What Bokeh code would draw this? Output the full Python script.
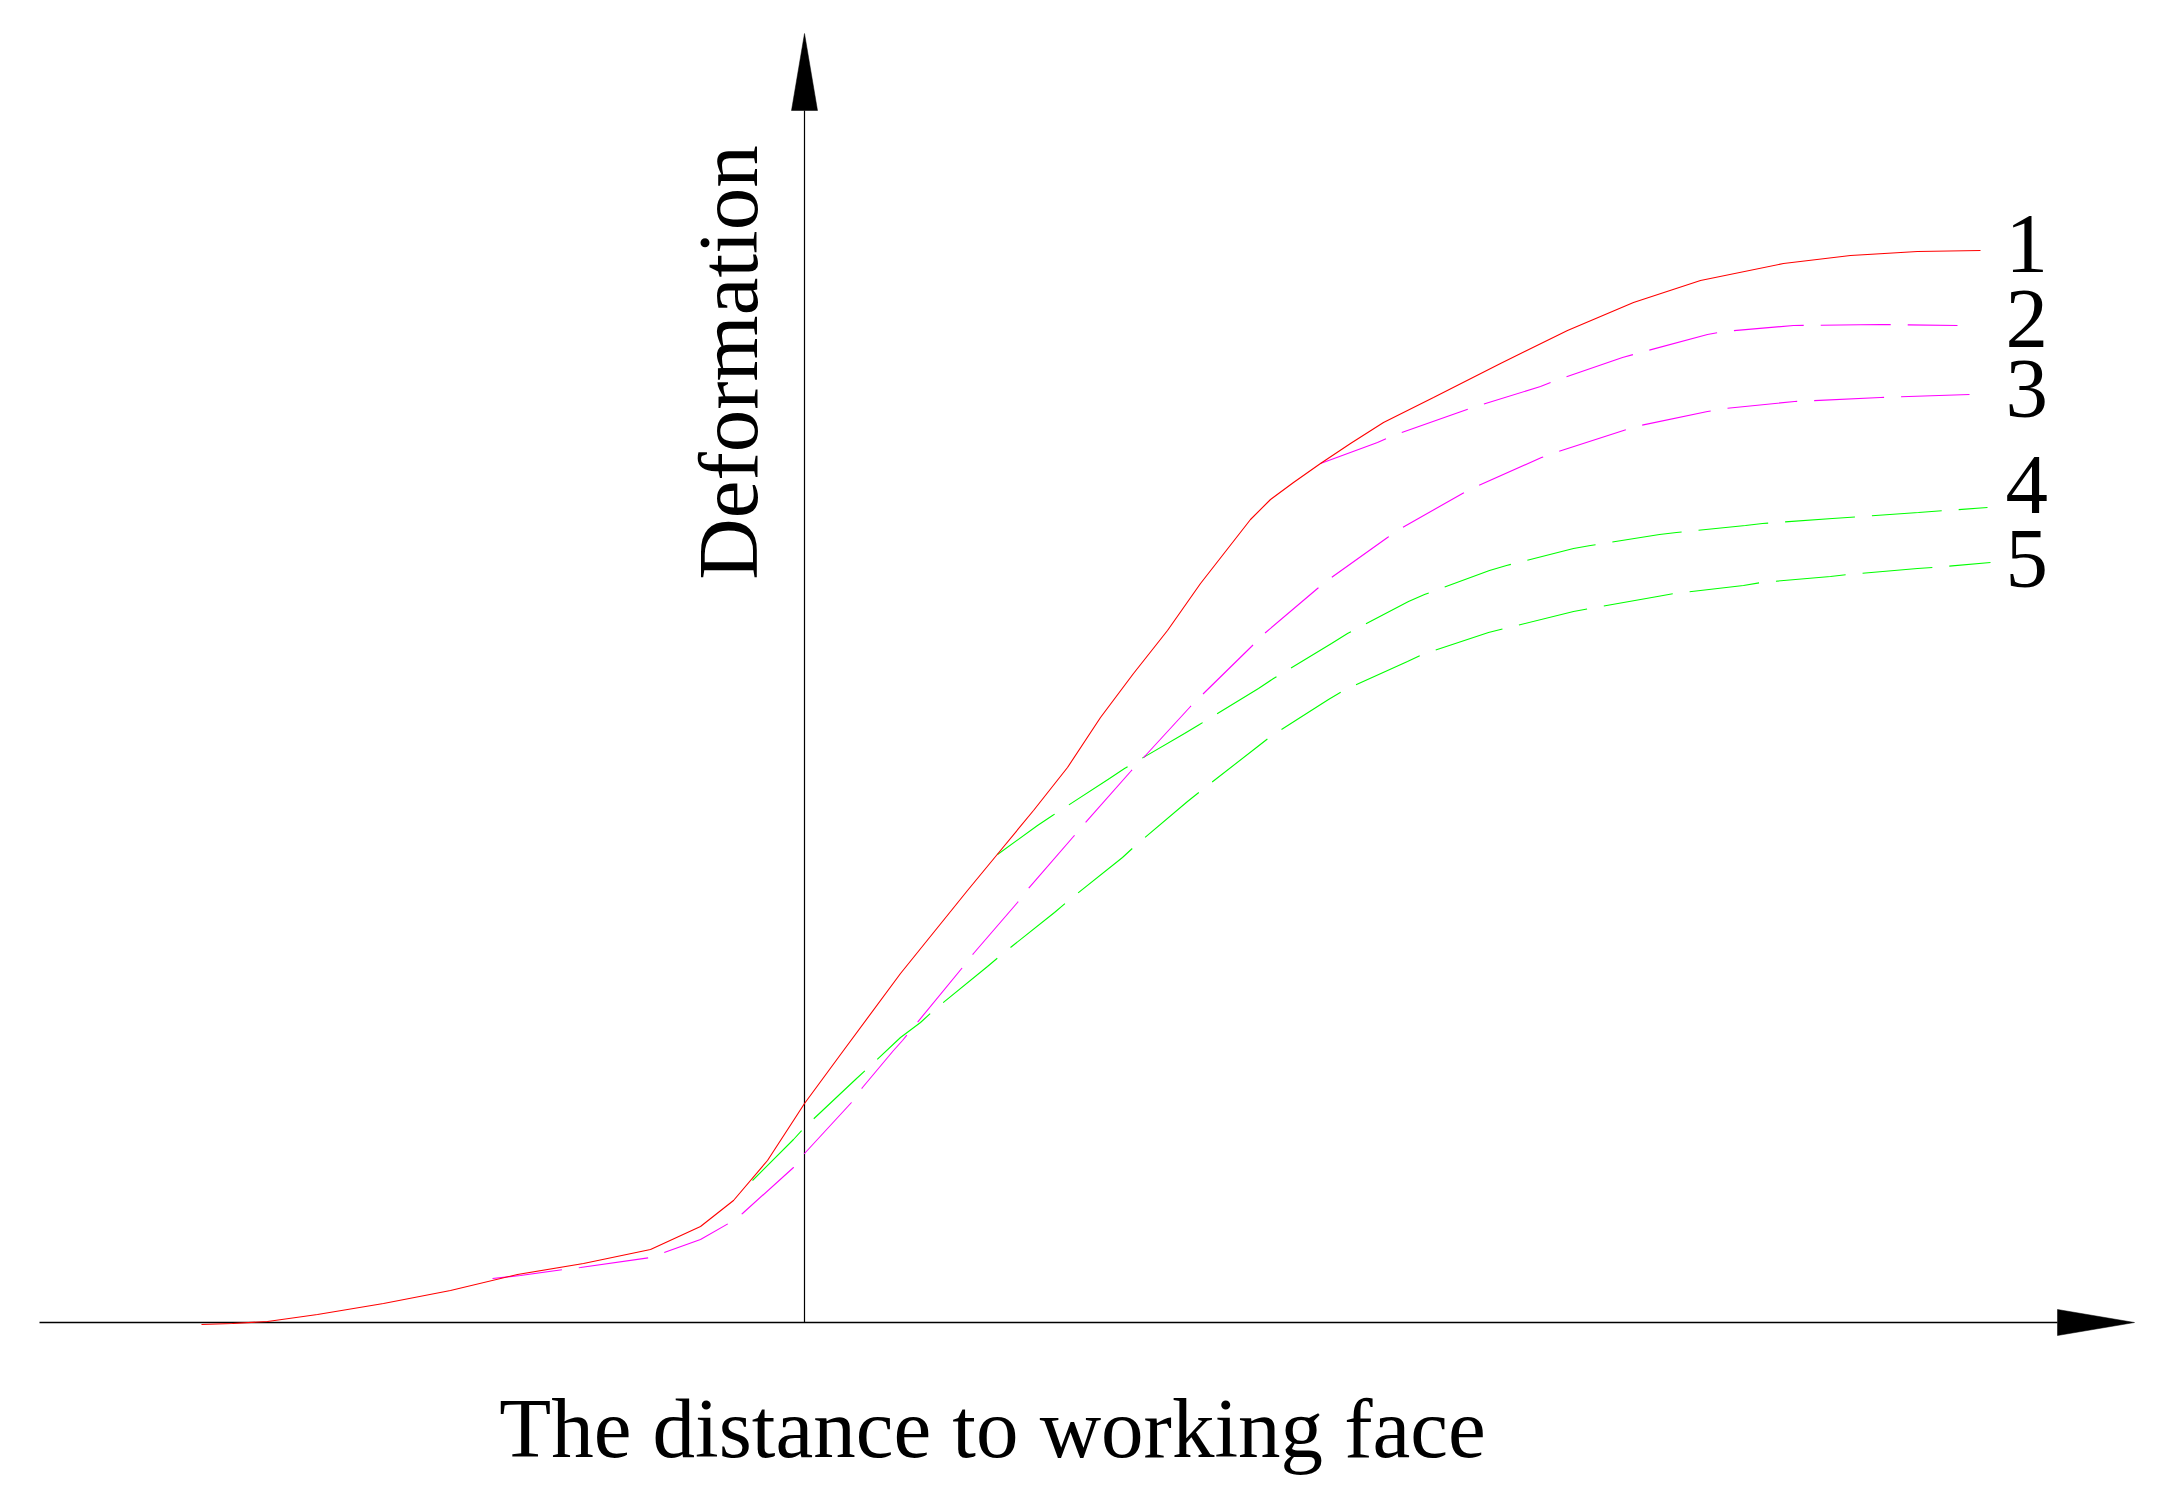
import math
from bokeh.plotting import figure
from bokeh.models import Range1d
from bokeh.core.properties import value
from bokeh.embed import file_html
from bokeh.resources import INLINE

# ---- data (arbitrary units: distance / deformation) ----
x1 = [-6.03, -5.72, -5.37, -4.87, -4.21, -3.54, -2.87, -2.21, -1.54, -1.04, -0.71, -0.37, -0.11, 0.00,
      0.39, 0.96, 1.63, 1.96, 2.29, 2.63, 2.96, 3.29, 3.63, 3.96, 4.46, 4.66, 4.89, 5.16, 5.46, 5.79,
      6.29, 6.96, 7.63, 8.29, 8.96, 9.79, 10.46, 11.13, 11.76]
y1 = [-0.02, -0.01, 0.01, 0.08, 0.19, 0.32, 0.48, 0.59, 0.73, 0.96, 1.22, 1.62, 2.02, 2.19,
      2.72, 3.49, 4.32, 4.72, 5.12, 5.55, 6.05, 6.49, 6.92, 7.39, 8.03, 8.23, 8.40, 8.59, 8.79, 9.00,
      9.25, 9.59, 9.92, 10.20, 10.42, 10.59, 10.67, 10.71, 10.72]

x2 = [5.16, 5.73, 5.89, 6.54, 6.71, 7.36, 7.54, 8.18, 8.36, 9.03, 9.19, 9.89, 10.76, 11.53]
y2 = [8.59, 8.80, 8.87, 9.10, 9.16, 9.36, 9.43, 9.65, 9.70, 9.88, 9.91, 9.97, 9.98, 9.97]

x3 = [-3.12, -2.84, -2.41, -2.24, -1.54, -1.04, -0.76, -0.62, -0.11, 0.00, 0.47, 0.58, 0.89, 0.98,
      1.58, 1.69, 2.13, 2.24, 2.69, 2.81, 3.27, 3.41, 3.86, 3.98, 4.47, 4.60, 5.13, 5.27, 5.83, 5.98,
      6.58, 6.74, 7.37, 7.54, 8.19, 8.36, 9.03, 9.21, 9.90, 10.76, 11.65]
y3 = [0.44, 0.47, 0.53, 0.55, 0.65, 0.83, 0.99, 1.09, 1.55, 1.69, 2.20, 2.35, 2.72, 2.82,
      3.55, 3.69, 4.20, 4.34, 4.86, 5.00, 5.52, 5.67, 6.16, 6.28, 6.76, 6.89, 7.34, 7.45, 7.85, 7.95,
      8.29, 8.37, 8.65, 8.71, 8.92, 8.97, 9.11, 9.14, 9.21, 9.25, 9.28]

x4 = [1.93, 2.33, 2.48, 3.05, 3.20, 3.80, 3.95, 4.54, 4.69, 5.27, 5.43, 6.04, 6.20, 6.85, 7.02,
      7.69, 7.86, 8.55, 8.72, 9.41, 9.58, 10.28, 11.14, 11.83]
y4 = [4.68, 4.97, 5.07, 5.44, 5.54, 5.89, 5.98, 6.34, 6.44, 6.79, 6.89, 7.21, 7.28, 7.52, 7.57,
      7.74, 7.77, 7.88, 7.90, 7.97, 7.99, 8.04, 8.10, 8.15]

x5 = [-0.52, -0.11, 0.00, 0.51, 0.64, 0.96, 1.16, 1.29, 1.83, 1.96, 2.50, 2.64, 3.18, 3.31, 3.83,
      3.98, 4.52, 4.66, 5.24, 5.39, 6.03, 6.18, 6.84, 7.00, 7.69, 7.85, 8.53, 8.70, 9.39, 9.57,
      10.26, 10.43, 11.13, 11.29, 11.86]
y5 = [1.42, 1.83, 1.95, 2.43, 2.55, 2.85, 3.00, 3.12, 3.56, 3.67, 4.10, 4.22, 4.65, 4.77, 5.21,
      5.33, 5.75, 5.86, 6.23, 6.32, 6.61, 6.68, 6.90, 6.94, 7.11, 7.14, 7.26, 7.29, 7.37, 7.40,
      7.46, 7.48, 7.54, 7.55, 7.60]

curve_labels = ["1", "2", "3", "4", "5"]
label_y = [10.79, 10.04, 9.34, 8.38, 7.64]
label_x = 12.01

x_title = "The distance to working face"
y_title = "Deformation"

# axis extents (data units)
x_axis_start, x_axis_end = -7.65, 13.30
y_axis_end = 12.89

W, H = 2158, 1490
p = figure(width=W, height=H, output_backend="svg", toolbar_location=None,
           x_range=Range1d(-8.04, 13.54), y_range=Range1d(-1.68, 13.22),
           x_axis_type=None, y_axis_type=None, min_border=0)
p.grid.visible = False
p.outline_line_color = None
p.background_fill_color = "white"
p.border_fill_color = "white"

# axes with arrow heads
head_len, head_half = 0.77, 0.13
p.line([x_axis_start, x_axis_end - head_len], [0, 0], line_color="black", line_width=1.3)
p.line([0, 0], [0, y_axis_end - head_len], line_color="black", line_width=1.2)
p.patch([x_axis_end - head_len, x_axis_end, x_axis_end - head_len],
        [head_half, 0, -head_half], fill_color="black", line_color="black", line_width=0.5)
p.patch([-head_half, 0, head_half],
        [y_axis_end - head_len, y_axis_end, y_axis_end - head_len],
        fill_color="black", line_color="black", line_width=0.5)

dash = "70 17"
p.line(x5, y5, line_color="#00FF00", line_width=1.1, line_dash=dash)
p.line(x4, y4, line_color="#00FF00", line_width=1.1, line_dash=dash)
p.line(x3, y3, line_color="#FF00FF", line_width=1.1, line_dash=dash)
p.line(x2, y2, line_color="#FF00FF", line_width=1.1, line_dash=dash)
p.line(x1, y1, line_color="#FF0000", line_width=1.1)

font = value("Liberation Serif")
p.text(x=[label_x] * 5, y=label_y, text=curve_labels, text_font=font,
       text_font_size=value("85px"), text_align="left", text_baseline="alphabetic",
       text_color="black")
p.text(x=[1.88], y=[-1.05], text=[x_title], text_font=font,
       text_font_size=value("85px"), text_align="center", text_baseline="alphabetic",
       text_color="black")
p.text(x=[-0.77], y=[9.60], text=[y_title], angle=math.pi / 2, text_font=font,
       text_font_size=value("85px"), text_align="center", text_baseline="alphabetic",
       text_color="black")

open("out.html", "w").write(file_html(p, INLINE))
